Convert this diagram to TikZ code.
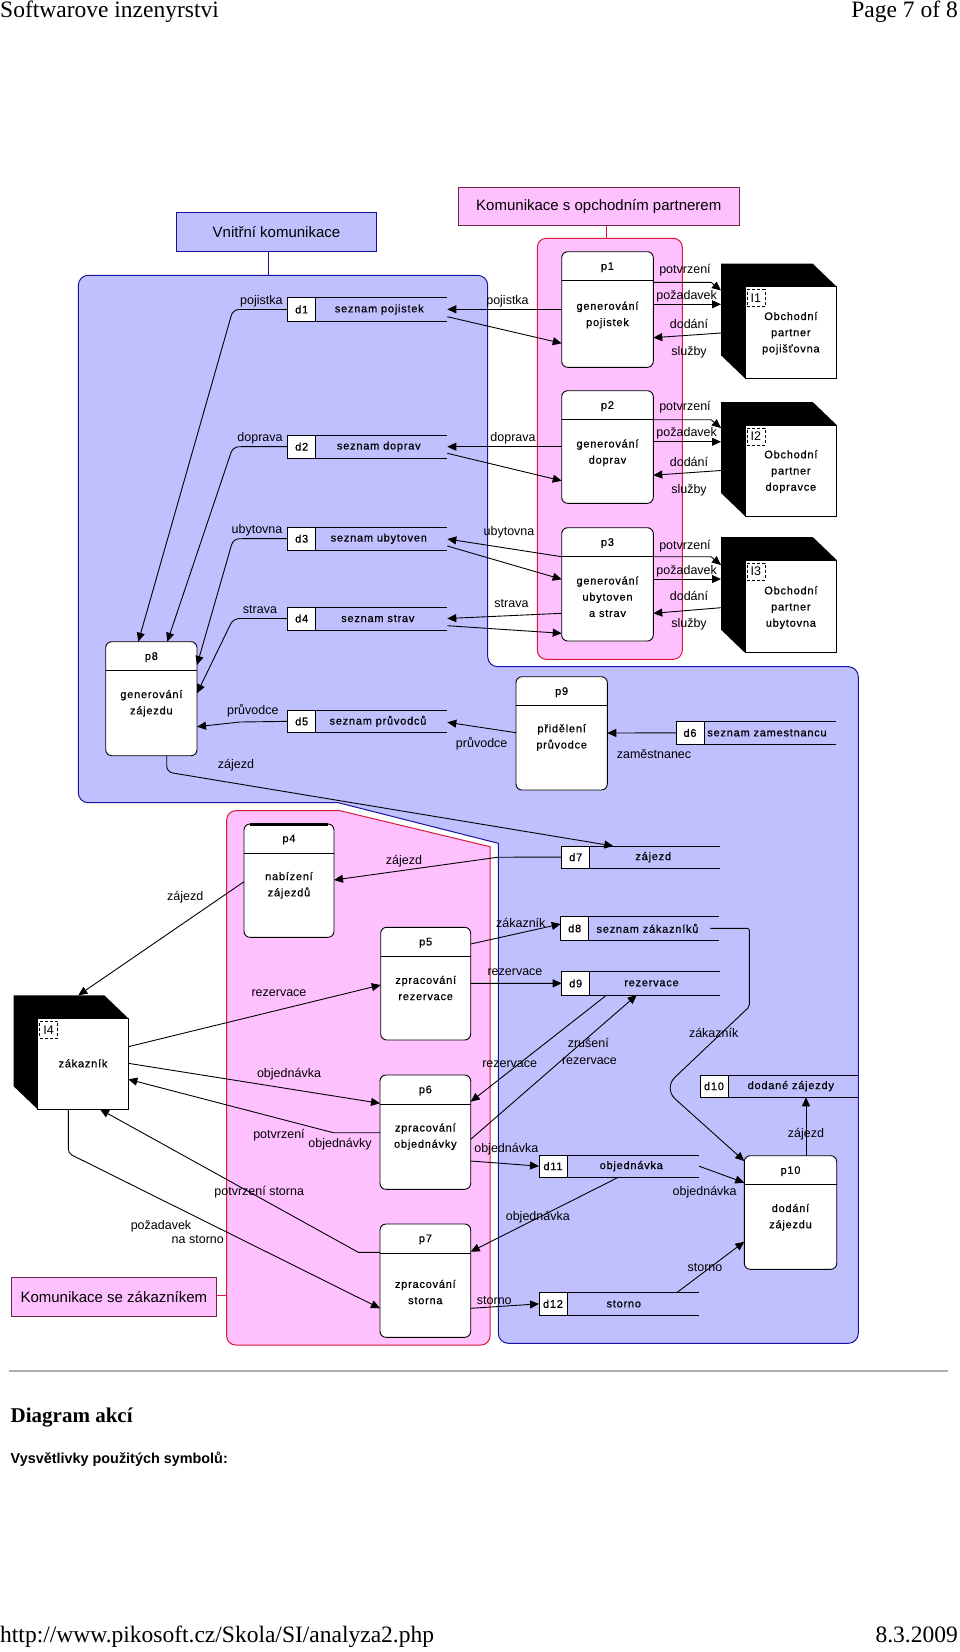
\documentclass[tikz,border=0pt]{standalone}
\usepackage{fontspec}
\setmainfont{Liberation Serif}
\newfontfamily\sansf{Liberation Sans}
\newfontfamily\ndf[LetterSpace=7,FakeBold=0.6]{Liberation Sans}
\usetikzlibrary{arrows.meta,calc}
\definecolor{bluefill}{RGB}{192,192,255}
\definecolor{blueedge}{RGB}{20,20,160}
\definecolor{pinkfill}{RGB}{255,192,255}
\definecolor{pinkedge}{RGB}{215,25,55}
\definecolor{caledge}{RGB}{110,40,70}
\definecolor{rulegray}{RGB}{175,175,175}
\newcommand\lblfont{\sansf\fontsize{12.5}{14}\selectfont}
\newcommand\ndfont{\ndf\fontsize{11}{16.2}\selectfont}
\newcommand\calfont{\sansf\fontsize{15}{18}\selectfont}
\newcommand\hdrfont{\rmfamily\fontsize{23.5}{26}\selectfont}
\tikzset{
  ln/.style={draw=black, line width=0.9pt},
  arr/.style={ln, -{Triangle[length=9pt,width=8pt]}},
  procbox/.style={draw=black, line width=0.9pt, fill=white, rounded corners=6pt, inner sep=0pt, outer sep=0pt},
  storebox/.style={inner sep=0pt, outer sep=0pt},
  storeid/.style={draw=black, fill=white, line width=0.9pt, inner sep=0pt, outer sep=0pt, minimum width=28pt, font=\ndfont},
  entbox/.style={draw=black, fill=white, line width=0.9pt, inner sep=0pt, outer sep=0pt},
  entid/.style={draw=black, dash pattern=on 3pt off 2pt, line width=0.8pt, inner sep=0pt, minimum width=18pt, minimum height=17pt, font=\lblfont},
  lbl/.style={font=\lblfont, inner sep=0pt},
  ntext/.style={font=\ndfont, inner sep=0pt, align=center},
  callout/.style={line width=0.9pt, inner sep=0pt, font=\calfont},
  bluereg/.style={fill=bluefill, draw=blueedge, line width=1pt},
  pinkreg/.style={fill=pinkfill, draw=pinkedge, line width=1pt},
}
% name, x1, y1, x2, y2, id, body, body offset
\newcommand\mkproc[8]{%
  \node[procbox, minimum width={(#4)-(#2)}, minimum height={(#5)-(#3)}] (#1) at ({((#2)+(#4))/2},{((#3)+(#5))/2}) {};
  \draw[ln] ($(#1.north west)+(0,29)$) -- ($(#1.north east)+(0,29)$);
  \node[ntext] (#1h) at ($(#1.north)+(0,15.5)$) {#6};
  \node[ntext] (#1b) at ($(#1.north)+(0,#8)$) {#7};
}
% name, x1, y1, x2, y2, id, text, text x
\newcommand\mkstore[8]{%
  \node[storebox, minimum width={(#4)-(#2)}, minimum height={(#5)-(#3)}] (#1) at ({((#2)+(#4))/2},{((#3)+(#5))/2}) {};
  \draw[ln] (#1.north west) -- (#1.north east) (#1.south west) -- (#1.south east);
  \node[storeid, minimum height={(#5)-(#3)}, anchor=north west] (#1i) at (#1.north west) {#6};
  \node[ntext] (#1t) at (#8,{((#3)+(#5))/2}) {#7};
}
% name, x1, y1, x2, y2, id, text, text offset
\newcommand\mkent[8]{%
  \fill[black] ({(#2)-24},{(#3)-23}) -- ({(#4)-24},{(#3)-23}) -- (#4,#3) -- (#2,#5) -- ({(#2)-24},{(#5)-23}) -- cycle;
  \coordinate (#1k) at ({(#2)-24},#3);
  \coordinate (#1u) at ({(#2)-24},{(#3)-23});
  \node[entbox, minimum width={(#4)-(#2)}, minimum height={(#5)-(#3)}] (#1) at ({((#2)+(#4))/2},{((#3)+(#5))/2}) {};
  \node[entid, anchor=north west] (#1i) at ($(#1.north west)+(1.5,2.5)$) {#6};
  \node[ntext] (#1t) at ($(#1.north)+(0,#8)$) {#7};
}
\begin{document}
\begin{tikzpicture}[x=1pt,y=-1pt]
\useasboundingbox (0,0) rectangle (960,1652);
\fill[white] (0,0) rectangle (960,1652);

% ---------- page texts ----------
\node[font=\hdrfont, anchor=base west, inner sep=0pt] (hd1) at (0,17.5) {Softwarove inzenyrstvi};
\node[font=\hdrfont, anchor=base east, inner sep=0pt] (hd2) at (958,17.5) {Page 7 of 8};
\draw[rulegray, line width=1.6pt] (9,1371) -- (948,1371);
\node[font=\rmfamily\bfseries\fontsize{21}{24}\selectfont, anchor=base west, inner sep=0pt] (ttl) at (10.5,1422) {Diagram akcí};
\node[font=\sansf\bfseries\fontsize{14.4}{17}\selectfont, anchor=base west, inner sep=0pt] (vys) at (10.5,1463) {Vysvětlivky použitých symbolů:};
\node[font=\hdrfont, anchor=base west, inner sep=0pt] (ft1) at (0,1642) {http://www.pikosoft.cz/Skola/SI/analyza2.php};
\node[font=\hdrfont, anchor=base east, inner sep=0pt] (ft2) at (958,1642) {8.3.2009};

% ---------- regions ----------
\draw[bluereg, rounded corners=10] (78.3,275.3) -- (487.7,275.3) -- (487.7,666.7) -- (858.3,666.7) -- (858.3,1343.3) -- (498.3,1343.3) [sharp corners] -- (498.3,843.3) -- (338.3,802.7) [rounded corners=10] -- (78.3,802.7) -- cycle;
\draw[pinkreg, rounded corners=9] (537.3,238.3) rectangle (682.3,659.3);
\draw[pinkreg, rounded corners=9] (226.7,810.7) [sharp corners] -- (340,810.7) -- (490,846.7) [rounded corners=9] -- (490,1345) -- (226.7,1345) -- cycle;
\coordinate (bluetop) at (268.7,275.3);
\coordinate (pinktop) at (606.7,238.3);
\coordinate (pinkleft) at (226.7,1295);

% ---------- callouts ----------
\node[callout, fill=bluefill, draw=blueedge, minimum width=200.4pt, minimum height=38.7pt] (cv) at (276.5,231.6) {Vnitřní komunikace};
\node[callout, fill=pinkfill, draw=caledge, minimum width=281pt, minimum height=37.7pt] (cp) at (598.8,206.2) {Komunikace s opchodním partnerem};
\node[callout, fill=pinkfill, draw=caledge, minimum width=205.7pt, minimum height=38.3pt] (cz) at (113.9,1296.9) {Komunikace se zákazníkem};
\draw[blueedge, line width=1pt] (cv.south -| bluetop) -- (bluetop);
\draw[pinkedge, line width=1pt] (cp.south -| pinktop) -- (pinktop);
\draw[pinkedge, line width=1pt] (cz.east |- pinkleft) -- (pinkleft);

% ---------- processes ----------
\mkproc{p1}{561.7}{251.7}{653.3}{367.3}{p1}{generování\\pojistek}{63.3}
\mkproc{p2}{561.7}{390.7}{653.3}{503.3}{p2}{generování\\doprav}{62}
\mkproc{p3}{561.7}{527.7}{653.3}{641}{p3}{generování\\ubytoven\\a strav}{69}
\mkproc{p8}{105.7}{641.7}{197}{755.7}{p8}{generování\\zájezdu}{61.6}
\mkproc{p9}{516}{676.7}{607.3}{790}{p9}{přidělení\\průvodce}{60.8}
\mkproc{p4}{244}{824}{334}{937.3}{p4}{nabízení\\zájezdů}{61.3}
\draw[line width=2.4pt] ($(p4.north west)+(6,0.6)$) -- ($(p4.north east)+(-6,0.6)$);
\mkproc{p5}{380.7}{927.3}{470.7}{1040}{p5}{zpracování\\rezervace}{60.7}
\mkproc{p6}{380}{1075}{470.7}{1189.3}{p6}{zpracování\\objednávky}{61.7}
\mkproc{p7}{380}{1224}{470.7}{1337.3}{p7}{zpracování\\storna}{68}
\mkproc{p10}{744.3}{1155.7}{836.7}{1269.3}{p10}{dodání\\zájezdu}{61.5}

% ---------- stores ----------
\mkstore{d1}{287.7}{297.7}{447.3}{321.3}{d1}{seznam pojistek}{379.3}
\mkstore{d2}{287.7}{435}{447.3}{458.3}{d2}{seznam doprav}{378.8}
\mkstore{d3}{287.7}{527.3}{447.3}{550}{d3}{seznam ubytoven}{378.8}
\mkstore{d4}{287.7}{607}{447.3}{630}{d4}{seznam strav}{377.8}
\mkstore{d5}{287.7}{710}{447.3}{732.7}{d5}{seznam průvodců}{378}
\mkstore{d6}{676}{721.7}{836}{744}{d6}{seznam zamestnancu}{767}
\mkstore{d7}{561.7}{846}{720}{868.3}{d7}{zájezd}{653.3}
\mkstore{d8}{560.7}{916.7}{719.3}{940}{d8}{seznam zákazníků}{647.5}
\mkstore{d9}{561.7}{971.7}{720}{995}{d9}{rezervace}{651.5}
\mkstore{d10}{700}{1075}{858.3}{1097.3}{d10}{dodané zájezdy}{790.8}
\mkstore{d11}{539}{1155}{699}{1177.3}{d11}{objednávka}{631.3}
\mkstore{d12}{539}{1292.7}{699}{1315}{d12}{storno}{623.8}

% ---------- external entities ----------
\mkent{I1}{745}{286.7}{836.7}{378.3}{I1}{Obchodní\\partner\\pojišťovna}{46.6}
\mkent{I2}{745}{425}{836.7}{516}{I2}{Obchodní\\partner\\dopravce}{46.6}
\mkent{I3}{745}{560}{836.7}{652.7}{I3}{Obchodní\\partner\\ubytovna}{47.6}
\mkent{I4}{37.7}{1018.3}{128.3}{1109.3}{I4}{zákazník}{45}

% ---------- connectors: partners ----------
\draw[arr] (p1.west |- 0,309.3) -- (d1.east |- 0,309.3);
\draw[arr] (d1.east |- 0,316.7) -- (p1.west |- 0,343.3);
\draw[arr] (p1.east |- 0,282.3) -- (711,282.3) -- (I1k |- 0,290.5);
\draw[arr] (p1.east |- 0,304.3) -- (I1k |- 0,304.3);
\draw[arr] (I1k |- 0,333) -- (p1.east |- 0,337.7);

\draw[arr] (p2.west |- 0,446.7) -- (d2.east |- 0,446.7);
\draw[arr] (d2.east |- 0,453.3) -- (p2.west |- 0,480.8);
\draw[arr] (p2.east |- 0,419.7) -- (711,419.7) -- (I2k |- 0,428);
\draw[arr] (p2.east |- 0,441.8) -- (I2k |- 0,441.8);
\draw[arr] (I2k |- 0,470.5) -- (p2.east |- 0,475.2);

\draw[arr] (p3.west |- 0,556.7) -- (d3.east |- 0,539);
\draw[arr] (d3.east |- 0,546) -- (p3.west |- 0,579.3);
\draw[arr] (p3.west |- 0,613.3) -- (d4.east |- 0,618.5);
\draw[arr] (d4.east |- 0,625.7) -- (p3.west |- 0,633.3);
\draw[arr] (p3.east |- 0,556.7) -- (711,556.7) -- (I3k |- 0,565);
\draw[arr] (p3.east |- 0,579) -- (I3k |- 0,579);
\draw[arr] (I3k |- 0,607.7) -- (p3.east |- 0,613.3);

% ---------- connectors: internal ----------
\draw[arr, rounded corners=6] (d1.west) -- (233,309.5) -- (p8.north -| 138.3,0);
\draw[arr, rounded corners=6] (d2.west) -- (233,446.7) -- (p8.north -| 167.3,0);
\draw[arr, rounded corners=6] (d3.west) -- (233.3,538.7) -- (p8.east |- 0,665);
\draw[arr, rounded corners=6] (d4.west) -- (233.3,618.5) -- (p8.east |- 0,693.3);
\draw[arr] (d5.west) -- (240,722) -- (p8.east |- 0,726.7);
\draw[arr] (p9.west |- 0,732.7) -- (d5.east |- 0,722.3);
\draw[arr] (d6.west) -- (p9.east |- 0,733);
\draw[arr, rounded corners=6] (p8.south -| 166.7,0) -- (166.7,772) -- (d7.north -| 613.3,0);
\draw[arr] (d7.west) -- (498,857.2) -- (p4.east |- 0,880);
\draw[arr] (p4.west |- 0,881.7) -- (I4u -| 78.3,0);
\draw[arr] (I4.east |- 0,1046.7) -- (p5.west |- 0,985);
\draw[arr] (p5.east |- 0,944) -- (d8.west |- 0,924);
\draw[arr] (p5.east |- 0,983.3) -- (d9.west);
\draw[arr] ([xshift=-9pt]d8.east) [rounded corners=2] -- (749.3,928.4) -- (749.3,1006.7) [rounded corners=16] -- (663.3,1088.3) -- (p10.west |- 0,1161);
\draw[arr] (d9.south -| 606.7,0) -- (p6.east |- 0,1101.7);
\draw[arr] (p6.east |- 0,1139.3) -- (d9.south -| 636.7,0);
\draw[arr] (I4.east |- 0,1063.3) -- (p6.west |- 0,1103.3);
\draw[arr] (p6.west |- 0,1132.7) -- (333.3,1132.7) -- (I4.east |- 0,1079.3);
\draw[arr] (p6.east |- 0,1161) -- (d11.west);
\draw[arr] (d11.east) -- (p10.west |- 0,1182.7);
\draw[arr] (d11.south -| 618.3,0) -- (p7.east |- 0,1251.7);
\draw[arr] (p10.north -| 806,0) -- (d10.south -| 806,0);
\draw[arr, rounded corners=4] (I4.south -| 68.3,0) -- (68.3,1153.3) -- (p7.west |- 0,1308.3);
\draw[arr] (p7.west |- 0,1252.3) -- (358.3,1252.3) -- (I4.south -| 100,0);
\draw[arr] (p7.east |- 0,1308.3) -- (d12.west);
\draw[arr] (d12.north -| 676.7,0) -- (p10.west |- 0,1241.7);

% ---------- labels ----------
\node[lbl] (l1) at (507.5,301) {pojistka};
\node[lbl] (l2) at (513,438.3) {doprava};
\node[lbl] (l3) at (509,532.7) {ubytovna};
\node[lbl] (l4) at (511.5,604) {strava};
\node[lbl] (l5) at (685,270) {potvrzení};
\node[lbl] (l6) at (686.7,296) {požadavek};
\node[lbl] (l7) at (689,324) {dodání};
\node[lbl] (l8) at (689,352.7) {služby};
\node[lbl] (l9) at (685,407.5) {potvrzení};
\node[lbl] (l10) at (686.7,433.5) {požadavek};
\node[lbl] (l11) at (689,461.5) {dodání};
\node[lbl] (l12) at (689,490.2) {služby};
\node[lbl] (l13) at (685,546) {potvrzení};
\node[lbl] (l14) at (686.7,571) {požadavek};
\node[lbl] (l15) at (689,596) {dodání};
\node[lbl] (l16) at (689,624) {služby};
\node[lbl] (l17) at (261.3,301) {pojistka};
\node[lbl] (l18) at (260,438.7) {doprava};
\node[lbl] (l19) at (257,530) {ubytovna};
\node[lbl] (l20) at (260,610) {strava};
\node[lbl] (l21) at (252.8,710.7) {průvodce};
\node[lbl] (l22) at (236,765) {zájezd};
\node[lbl] (l23) at (481.7,744) {průvodce};
\node[lbl] (l24) at (654,754.3) {zaměstnanec};
\node[lbl] (l25) at (404,860.7) {zájezd};
\node[lbl] (l26) at (185.3,897.3) {zájezd};
\node[lbl] (l27) at (279,993.3) {rezervace};
\node[lbl] (l28) at (520.8,922.7) {zákazník};
\node[lbl] (l29) at (515,972.3) {rezervace};
\node[lbl] (l30) at (713.7,1033.3) {zákazník};
\node[lbl] (l31) at (509.7,1064.3) {rezervace};
\node[lbl] (l32) at (588.3,1043.3) {zrušení};
\node[lbl] (l33) at (589.5,1061) {rezervace};
\node[lbl] (l34) at (289,1074) {objednávka};
\node[lbl] (l35) at (279,1135) {potvrzení};
\node[lbl] (l36) at (340,1144) {objednávky};
\node[lbl] (l37) at (506.3,1149) {objednávka};
\node[lbl] (l38) at (704.7,1191.7) {objednávka};
\node[lbl] (l39) at (537.8,1217.3) {objednávka};
\node[lbl] (l40) at (806,1134) {zájezd};
\node[lbl] (l41) at (259.2,1191.7) {potvrzení storna};
\node[lbl] (l42) at (161,1226) {požadavek};
\node[lbl] (l43) at (197.8,1240) {na storno};
\node[lbl] (l44) at (494.3,1300.7) {storno};
\node[lbl] (l45) at (705,1267.7) {storno};
\end{tikzpicture}
\end{document}
